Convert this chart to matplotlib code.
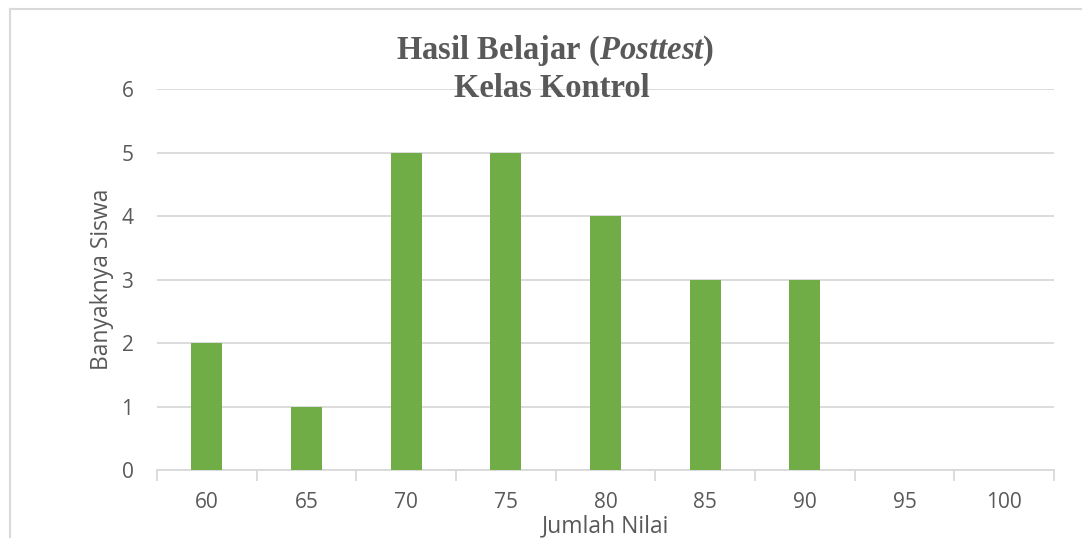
import matplotlib
matplotlib.use("Agg")
import matplotlib.pyplot as plt
import numpy as np

# data
nilai = ["60", "65", "70", "75", "80", "85", "90", "95", "100"]
siswa = [2, 1, 5, 5, 4, 3, 3, 0, 0]

green = "#70AD47"
grid_col = "#D9D9D9"
text_col = "#595959"

plt.rcParams["mathtext.fontset"] = "custom"
plt.rcParams["mathtext.bf"] = "Liberation Serif:bold"
plt.rcParams["mathtext.it"] = "Liberation Serif:bold:italic"
plt.rcParams["mathtext.rm"] = "Liberation Serif:bold"

fig = plt.figure(figsize=(10.82, 5.38), dpi=100)
ax = fig.add_axes([0.1451, 0.1264, 0.829, 0.708])

x = np.arange(len(nilai))
ax.bar(x, siswa, width=0.31, color=green, zorder=3)

ax.set_xlim(-0.5, len(nilai) - 0.5)
ax.set_ylim(0, 6)
ax.set_yticks(range(0, 7))
ax.set_xticks(x)
ax.set_xticklabels(nilai)
ax.set_xticks(np.arange(-0.5, len(nilai)), minor=True)

ax.grid(axis="y", color=grid_col, linewidth=1.3, zorder=0)
for s in ["top", "right", "left"]:
    ax.spines[s].set_visible(False)
ax.spines["bottom"].set_color(grid_col)
ax.spines["bottom"].set_linewidth(1.3)

ax.tick_params(axis="x", which="major", length=0, pad=16, labelsize=15, labelcolor=text_col)
ax.tick_params(axis="x", which="minor", length=8, width=1.3, color=grid_col)
ax.tick_params(axis="y", length=0, pad=17, labelsize=15, labelcolor=text_col)
for lab in ax.get_xticklabels() + ax.get_yticklabels():
    lab.set_fontfamily("Open Sans")

ax.set_xlabel("Jumlah Nilai", fontsize=16.5, color=text_col, family="Open Sans", labelpad=1)
ax.set_ylabel("Banyaknya Siswa", fontsize=16.5, color=text_col, family="Open Sans", labelpad=5)

fig.text(0.513, 0.905, r"$\mathbf{Hasil\ Belajar\ (}\mathit{Posttest}\mathbf{)}$",
         ha="center", va="center", fontsize=23.5, color=text_col)
fig.text(0.510, 0.835, "Kelas Kontrol", ha="center", va="center", fontsize=23.5,
         color=text_col, family="Liberation Serif", weight="bold")

# outer chart border (cropped on right/bottom)
fig.add_artist(plt.Line2D([10 / 1082, 10 / 1082], [0, 1 - 9 / 538], color=grid_col, lw=1.5))
fig.add_artist(plt.Line2D([10 / 1082, 1], [1 - 9 / 538, 1 - 9 / 538], color=grid_col, lw=1.5))

fig.savefig("out.png", dpi=100)
